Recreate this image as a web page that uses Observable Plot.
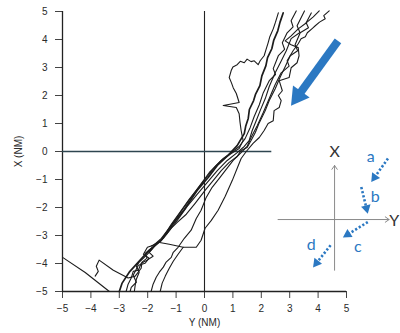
<!DOCTYPE html>
<html><head><meta charset="utf-8">
<script src="https://cdn.jsdelivr.net/npm/d3@7"></script>
<script src="https://cdn.jsdelivr.net/npm/@observablehq/plot@0.6"></script>
<style>body{margin:0;background:#fff}</style>
</head><body><div id="chart"></div>
<script>
// Axis ticks (NM)
const ticks = [-5, -4, -3, -2, -1, 0, 1, 2, 3, 4, 5];

// Trajectories: [Y (NM, horizontal), X (NM, vertical)]
const traj1 = [[2.77,4.95],[2.66,4.62],[2.58,4.31],[2.44,3.98],[2.37,3.67],[2.22,3.35],[2.16,3.06],[2.02,2.70],[1.95,2.35],[1.80,2.05],[1.73,1.82],[1.58,1.50],[1.54,1.18],[1.45,0.90],[1.40,0.64],[1.15,0.21],[0.83,-0.14],[0.45,-0.50],[0.13,-0.93],[-0.26,-1.39],[-0.71,-2.07],[-1.10,-2.57],[-1.52,-3.17],[-1.95,-3.53],[-2.33,-3.95],[-2.65,-4.31],[-2.90,-4.70],[-3.00,-5.0]];
const traj2 = [[3.23,5.02],[3.05,4.67],[3.12,4.45],[2.91,4.24],[2.74,3.88],[2.82,3.65],[2.60,3.42],[2.42,2.96],[2.50,2.75],[2.28,2.53],[2.07,2.10],[1.93,1.67],[1.75,1.25],[1.61,0.86],[1.43,0.46],[1.22,0.18],[0.94,-0.04],[0.66,-0.25],[0.38,-0.53],[0.10,-0.89],[-0.26,-1.35],[-0.54,-1.71],[-0.89,-2.21],[-1.17,-2.60],[-1.35,-2.89],[-1.52,-3.17],[-1.77,-3.38],[-1.95,-3.60],[-1.81,-3.74],[-2.02,-3.88],[-2.23,-3.99],[-2.33,-4.24],[-2.51,-4.28],[-2.58,-4.52],[-2.69,-4.74],[-2.76,-5.0]];
const traj3 = [[3.76,4.95],[3.58,4.60],[3.66,4.42],[3.37,4.24],[3.19,3.81],[3.28,3.60],[3.02,3.42],[2.84,3.03],[2.67,2.67],[2.49,2.24],[2.28,1.82],[2.14,1.46],[1.93,1.03],[1.79,0.68],[1.64,0.39],[1.50,0.14],[1.29,0.04],[1.15,-0.18],[0.87,-0.39],[0.59,-0.68],[0.31,-1.03],[0.02,-1.39],[-0.33,-1.85],[-0.64,-2.24],[-0.96,-2.53],[-1.17,-2.74],[-1.45,-3.10],[-1.67,-3.28],[-1.88,-3.53],[-2.12,-3.78],[-2.30,-3.95],[-2.40,-4.10],[-2.30,-4.31],[-2.40,-4.56],[-2.44,-4.77],[-2.47,-5.0]];
const traj4 = [[4.04,5.02],[3.83,4.81],[3.59,4.60],[3.30,4.38],[3.05,4.13],[2.84,3.95],[3.05,3.81],[3.30,3.71],[3.33,3.42],[3.26,3.17],[3.05,2.99],[2.98,2.64],[2.63,2.53],[2.74,2.17],[2.60,2.00],[2.70,1.82],[2.63,1.57],[2.45,1.46],[2.42,1.10],[2.24,1.00],[2.10,0.75],[1.93,0.50],[1.71,0.29],[1.47,0.00],[1.29,-0.25],[1.19,-0.50],[0.98,-1.03],[0.73,-1.60],[0.48,-2.10],[0.24,-2.46],[0.02,-2.74],[-0.12,-3.17],[-0.29,-3.42],[-0.75,-3.42],[-0.93,-3.67],[-1.10,-3.92],[-1.24,-4.17],[-1.38,-4.45],[-1.49,-4.70],[-1.56,-5.0]];
const traj5 = [[2.60,4.95],[2.50,4.62],[2.42,4.38],[2.30,4.10],[2.24,3.88],[2.16,3.62],[2.10,3.42],[1.96,3.24],[1.89,3.10],[1.75,3.24],[1.64,3.21],[1.50,3.30],[1.40,3.17],[1.26,3.22],[1.15,3.10],[1.00,3.02],[0.94,2.89],[0.87,2.64],[0.95,2.45],[1.01,2.28],[1.12,2.07],[1.22,1.75],[0.66,1.64],[1.12,1.57],[1.22,1.35],[1.25,1.05],[1.29,0.75],[1.36,0.39],[1.22,0.11],[0.94,-0.07],[0.59,-0.32],[0.17,-0.75],[-0.29,-1.39],[-0.75,-2.03],[-1.17,-2.64],[-1.52,-3.10],[-1.80,-3.35],[-2.01,-3.42],[-2.15,-3.67],[-1.95,-3.81],[-2.09,-3.99],[-2.33,-4.06],[-2.51,-4.42],[-2.40,-4.67],[-2.58,-4.85],[-2.62,-5.0]];
const traj6 = [[3.52,5.02],[3.26,4.49],[3.36,4.25],[3.05,4.03],[2.88,3.60],[2.67,3.17],[2.49,2.81],[2.28,2.32],[2.14,1.89],[1.96,1.46],[1.82,1.10],[1.68,0.75],[1.57,0.39],[1.40,0.18],[1.15,-0.04],[0.80,-0.32],[0.45,-0.68],[0.10,-1.10],[-0.26,-1.53],[-0.61,-1.96],[-0.96,-2.46],[-1.31,-2.92],[-1.59,-3.21],[-1.88,-3.46],[-2.09,-3.64],[-2.02,-3.81],[-2.20,-3.95],[-2.23,-4.17],[-2.44,-4.45],[-2.69,-4.52],[-3.21,-4.24],[-3.71,-3.88],[-3.81,-4.10],[-3.74,-4.28],[-3.85,-4.45]];
const traj7 = [[4.39,5.02],[4.20,4.85],[4.25,4.74],[4.05,4.62],[3.90,4.49],[3.80,4.40],[3.62,4.24],[3.55,4.10],[3.40,4.03],[3.30,3.85],[3.12,3.60],[2.91,3.24],[2.98,3.05],[2.70,2.81],[2.49,2.39],[2.28,1.89],[2.07,1.39],[1.86,0.93],[1.64,0.50],[1.50,0.18],[1.29,-0.04],[1.01,-0.32],[0.73,-0.68],[0.52,-0.96],[0.27,-1.28],[0.06,-1.64],[-0.12,-2.10],[-0.29,-2.39],[-0.47,-2.81],[-0.71,-3.10],[-0.93,-3.42],[-1.10,-3.60],[-1.17,-3.78],[-1.35,-3.95],[-1.45,-4.13],[-1.59,-4.31],[-1.70,-4.49],[-1.81,-4.74],[-1.88,-5.0]];
const traj8 = [[-4.97,-3.80],[-4.20,-4.32],[-3.35,-5.0]];
const traj9 = [[-1.88,-3.38],[-1.63,-3.24],[-1.24,-3.31],[-0.75,-3.42]];
const trajectories = [traj1, traj2, traj3, traj4, traj5, traj6, traj7, traj8, traj9];
const widths = [1.7, 1.1, 1.1, 1.1, 1.1, 1.1, 1.1, 1.1, 1.1];

// Crosshair extents
const crossH = [{v: 0, h1: -5, h2: 2.37}];
const crossV = [{h: 0, v1: -5, v2: 5}];

// Annotation: big blue arrow (tail -> tip)
const bigArrow = [{h1: 4.70, v1: 3.95, h2: 3.05, v2: 1.64}];
// Inset axes
const insetAxes = [{h1: 4.58, v1: -4.24, h2: 4.58, v2: -0.50}, {h1: 2.59, v1: -2.43, h2: 6.50, v2: -2.43}];
const insetAxisLabels = [{h: 4.58, v: -0.02, t: "X"}, {h: 6.68, v: -2.46, t: "Y"}];
// Inset dotted arrows a-d
const smallArrows = [
  {h1: 6.46, v1: -0.25, h2: 5.87, v2: -1.09},
  {h1: 5.52, v1: -1.27, h2: 5.75, v2: -2.22},
  {h1: 5.75, v1: -2.52, h2: 4.87, v2: -3.07},
  {h1: 4.44, v1: -3.35, h2: 3.82, v2: -4.14}
];
const arrowLabels = [{h: 5.85, v: -0.18, t: "a"}, {h: 6.01, v: -1.62, t: "b"}, {h: 5.40, v: -3.40, t: "c"}, {h: 3.76, v: -3.34, t: "d"}];

const rows = trajectories.flatMap((t, i) => t.map(([h, v]) => ({id: i, h, v, w: widths[i]})));

function heads(arr, shaftBack, centroidBack) {
  return arr.map(a => {
    const dh = a.h2 - a.h1, dv = a.v2 - a.v1, L = Math.hypot(dh, dv);
    const uh = dh / L, uv = dv / L;
    return {
      h1: a.h1, v1: a.v1,
      sh: a.h2 - shaftBack * uh, sv: a.v2 - shaftBack * uv,
      ch: a.h2 - centroidBack * uh, cv: a.v2 - centroidBack * uv,
      rot: Math.atan2(dh, dv) * 180 / Math.PI
    };
  });
}
const bigH = heads(bigArrow, 0.5, 0.41);
const smallH = heads(smallArrows, 0.18, 0.2);
const blue = "#2b78c2";

const plot = Plot.plot({
  width: 400, height: 333,
  marginLeft: 62, marginRight: 54, marginTop: 11, marginBottom: 42,
  x: {domain: [-5, 5]},
  y: {domain: [-5, 5]},
  style: {fontFamily: "'Liberation Sans', Arial, sans-serif", fontSize: "10px", color: "#2a2a2a", background: "#fff", overflow: "visible"},
  marks: [
    Plot.axisX({ticks, tickSize: 7, tickPadding: 6, label: "Y (NM)", labelAnchor: "center", labelOffset: 34, labelArrow: false, stroke: "#444", tickFormat: d => String(d).replace("-", "−")}),
    Plot.axisY({ticks, tickSize: 7, tickPadding: 8, label: "X (NM)", labelAnchor: "center", labelOffset: 48, labelArrow: false, stroke: "#444"}),
    Plot.ruleX([-5], {stroke: "#222", strokeWidth: 1.3}),
    Plot.ruleY([-5], {stroke: "#222", strokeWidth: 1.3}),
    Plot.ruleX(crossV, {x: "h", y1: "v1", y2: "v2", stroke: "#222", strokeWidth: 1.1}),
    Plot.ruleY(crossH, {y: "v", x1: "h1", x2: "h2", stroke: "#2e4550", strokeWidth: 1.3}),
    Plot.line(rows, {x: "h", y: "v", z: "id", stroke: "#1c1c1c", strokeWidth: "w", curve: "linear", strokeLinejoin: "round"}),
    // big arrow
    Plot.link(bigH, {x1: "h1", y1: "v1", x2: "sh", y2: "sv", stroke: blue, strokeWidth: 8}),
    Plot.dot(bigH, {x: "ch", y: "cv", symbol: "triangle", r: 7.6, rotate: "rot", fill: blue, stroke: "none"}),
    // inset
    Plot.arrow(insetAxes, {x1: "h1", y1: "v1", x2: "h2", y2: "v2", stroke: "#8a8a8a", strokeWidth: 1, headLength: 7, headAngle: 70}),
    Plot.text(insetAxisLabels, {x: "h", y: "v", text: "t", fontSize: 16, fill: "#333", fontFamily: "Lato, 'Open Sans', sans-serif"}),
    Plot.link(smallH, {x1: "h1", y1: "v1", x2: "sh", y2: "sv", stroke: blue, strokeWidth: 2.6, strokeDasharray: "2.2,2"}),
    Plot.dot(smallH, {x: "ch", y: "cv", symbol: "triangle", r: 3.6, rotate: "rot", fill: blue, stroke: "none"}),
    Plot.text(arrowLabels, {x: "h", y: "v", text: "t", fontSize: 16, fill: blue, fontFamily: "Lato, 'Open Sans', sans-serif"})
  ]
});
document.getElementById("chart").appendChild(plot);
</script>
</body></html>
